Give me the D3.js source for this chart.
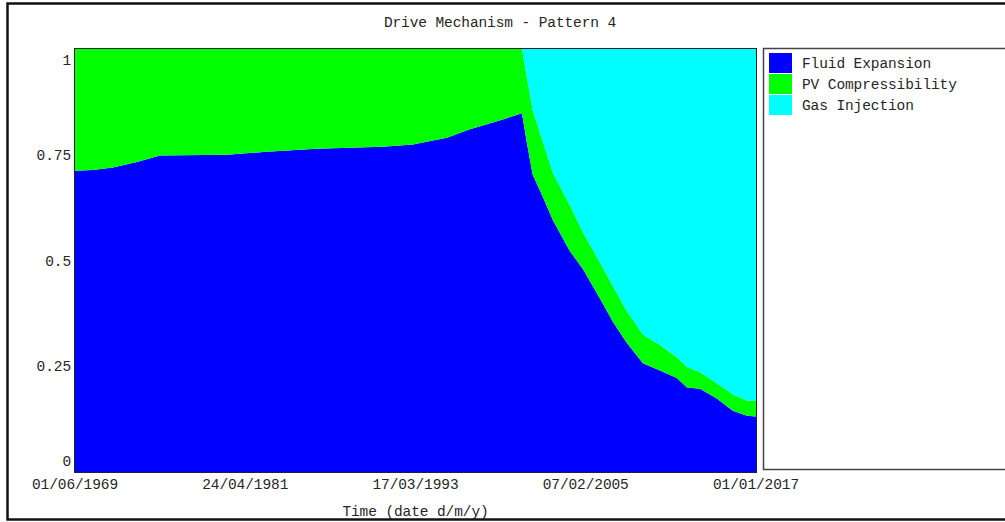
<!DOCTYPE html>
<html>
<head>
<meta charset="utf-8">
<script src="https://cdn.jsdelivr.net/npm/d3@7"></script>
<style>
  html, body { margin: 0; padding: 0; background: #fff; }
  svg { display: block; }
  text { font-family: "Liberation Mono", "DejaVu Sans Mono", monospace; fill: #262626; }
</style>
</head>
<body>
<svg id="chart" width="1005" height="522"></svg>
<script>
// Drive mechanism fractions over time (each row sums to 1)
const dates = [
  "1969-06-01", "1970-09-01", "1972-01-25", "1973-09-30", "1975-05-08",
  "1980-01-15", "1982-10-30", "1986-04-27", "1990-12-05", "1993-01-12",
  "1995-05-30", "1997-01-05", "1998-08-15", "2000-08-25", "2001-01-01",
  "2001-05-26", "2002-02-10", "2002-10-24", "2004-01-01", "2004-11-27",
  "2006-02-05", "2007-01-01", "2007-12-25", "2009-02-05", "2010-04-15",
  "2011-06-22", "2012-03-05", "2013-02-01", "2014-04-08", "2015-05-20",
  "2016-05-15", "2017-01-01"
];
const fluidExpansion = [
  0.712, 0.714, 0.720, 0.733, 0.748,
  0.750, 0.757, 0.764, 0.769, 0.774,
  0.790, 0.810, 0.826, 0.848, 0.776,
  0.703, 0.650, 0.595, 0.522, 0.480,
  0.410, 0.355, 0.305, 0.257, 0.240,
  0.222, 0.200, 0.197, 0.174, 0.145,
  0.133, 0.131
];
const pvCompressibility = [
  0.288, 0.286, 0.280, 0.267, 0.252,
  0.250, 0.243, 0.236, 0.231, 0.226,
  0.210, 0.190, 0.174, 0.152, 0.154,
  0.152, 0.130, 0.112, 0.108, 0.087,
  0.085, 0.085, 0.075, 0.068, 0.060,
  0.049, 0.048, 0.039, 0.036, 0.038,
  0.036, 0.038
];
const gasInjection = [
  0, 0, 0, 0, 0,
  0, 0, 0, 0, 0,
  0, 0, 0, 0, 0.070,
  0.145, 0.220, 0.293, 0.370, 0.433,
  0.505, 0.560, 0.620, 0.675, 0.700,
  0.729, 0.752, 0.764, 0.790, 0.817,
  0.831, 0.831
];
const seriesNames = ["Fluid Expansion", "PV Compressibility", "Gas Injection"];
const seriesColors = ["#0000ff", "#00ff00", "#00ffff"];
const xTickLabels = ["01/06/1969", "24/04/1981", "17/03/1993", "07/02/2005", "01/01/2017"];
const yTicks = [0, 0.25, 0.5, 0.75, 1];
const yTickLabels = ["0", "0.25", "0.5", "0.75", "1"];

const parseISO = d3.timeParse("%Y-%m-%d");
const parseDMY = d3.timeParse("%d/%m/%Y");

const rows = dates.map((d, i) => ({
  date: parseISO(d),
  "Fluid Expansion": fluidExpansion[i],
  "PV Compressibility": pvCompressibility[i],
  "Gas Injection": gasInjection[i]
}));

const svg = d3.select("#chart");
const plot = { left: 75, right: 756, top: 49, bottom: 472 };

// outer frame
svg.append("rect")
  .attr("x", 7.5).attr("y", 3.5)
  .attr("width", 1010).attr("height", 516)
  .attr("fill", "none").attr("stroke", "#111").attr("stroke-width", 2.5);

svg.append("text")
  .attr("x", 500).attr("y", 27)
  .attr("text-anchor", "middle")
  .attr("font-size", 14.5)
  .attr("letter-spacing", -0.1)
  .text("Drive Mechanism - Pattern 4");

const x = d3.scaleTime()
  .domain([parseDMY(xTickLabels[0]), parseDMY(xTickLabels[xTickLabels.length - 1])])
  .range([plot.left, plot.right]);
const y = d3.scaleLinear().domain([0, 1]).range([plot.bottom, plot.top]);

const stack = d3.stack().keys(seriesNames);
const layers = stack(rows);

const area = d3.area()
  .x(d => x(d.data.date))
  .y0(d => y(d[0]))
  .y1(d => y(d[1]));

svg.append("g").selectAll("path")
  .data(layers)
  .join("path")
  .attr("d", area)
  .attr("fill", (d, i) => seriesColors[i]);

// plot frame
svg.append("rect")
  .attr("x", plot.left - 0.5).attr("y", plot.top - 0.5)
  .attr("width", plot.right - plot.left + 1).attr("height", plot.bottom - plot.top + 1)
  .attr("fill", "none").attr("stroke", "#222").attr("stroke-width", 1);

// y tick labels (end labels kept inside the frame height)
svg.append("g").selectAll("text")
  .data(yTicks)
  .join("text")
  .attr("x", 71)
  .attr("y", v => Math.min(Math.max(y(v), plot.top + 11), plot.bottom - 11) + 5)
  .attr("text-anchor", "end")
  .attr("font-size", 14.5)
  .attr("letter-spacing", -0.1)
  .text((v, i) => yTickLabels[i]);

// x tick labels
svg.append("g").selectAll("text")
  .data(xTickLabels)
  .join("text")
  .attr("x", s => x(parseDMY(s)))
  .attr("y", 489)
  .attr("text-anchor", "middle")
  .attr("font-size", 14.5)
  .attr("letter-spacing", -0.1)
  .text(s => s);

svg.append("text")
  .attr("x", (plot.left + plot.right) / 2).attr("y", 516)
  .attr("text-anchor", "middle")
  .attr("font-size", 14.5)
  .attr("letter-spacing", -0.1)
  .text("Time (date d/m/y)");

// legend
const legend = svg.append("g");
legend.append("rect")
  .attr("x", 763.5).attr("y", 48.5)
  .attr("width", 300).attr("height", 421)
  .attr("fill", "#fff").attr("stroke", "#444").attr("stroke-width", 1.5);

const items = legend.selectAll("g.item")
  .data(seriesNames)
  .join("g")
  .attr("class", "item")
  .attr("transform", (d, i) => `translate(769, ${53 + i * 21})`);
items.append("rect")
  .attr("width", 23).attr("height", 20)
  .attr("fill", (d, i) => seriesColors[i]);
items.append("text")
  .attr("x", 33).attr("y", 15)
  .attr("font-size", 14.5)
  .attr("letter-spacing", -0.1)
  .text(d => d);
</script>
</body>
</html>
